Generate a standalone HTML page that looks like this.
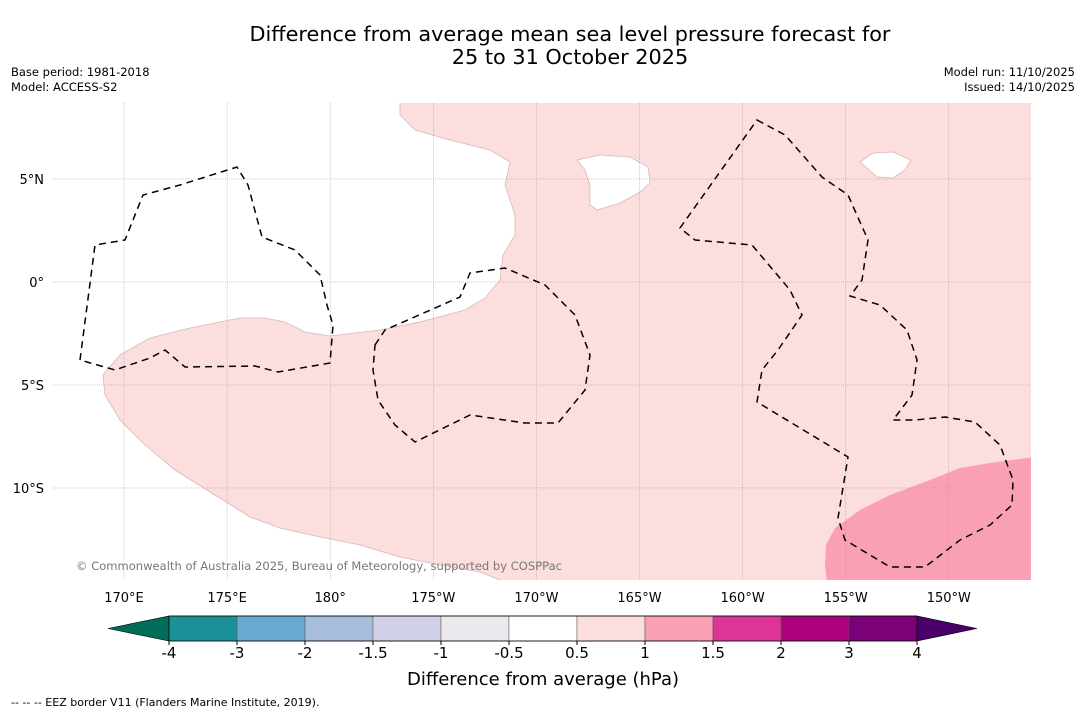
<!DOCTYPE html>
<html><head><meta charset="utf-8">
<style>
body{margin:0;background:#fff;font-family:"DejaVu Sans","Liberation Sans",sans-serif;}
svg{display:block}
</style></head>
<body>
<svg width="1085" height="713" viewBox="0 0 1085 713" xmlns="http://www.w3.org/2000/svg" font-family="DejaVu Sans, Liberation Sans, sans-serif">
<rect width="1085" height="713" fill="#fff"/>
<text x="570" y="41" font-size="20.8" text-anchor="middle">Difference from average mean sea level pressure forecast for</text>
<text x="570" y="64" font-size="20.8" text-anchor="middle">25 to 31 October 2025</text>
<text x="11" y="76" font-size="11.5">Base period: 1981-2018</text>
<text x="11" y="91" font-size="11.5">Model: ACCESS-S2</text>
<text x="1075" y="76" font-size="11.5" text-anchor="end">Model run: 11/10/2025</text>
<text x="1075" y="91" font-size="11.5" text-anchor="end">Issued: 14/10/2025</text>

<g>
<clipPath id="mc"><rect x="53" y="103" width="978" height="477"/></clipPath>
<g clip-path="url(#mc)">
<rect x="53" y="103" width="978" height="477" fill="#fddede"/>
<path d="M400,103 L400,115 L415,130 L450,140 L490,150 L510,162 L505,185 L515,215 L515,235 L503,255 L500,280 L485,298 L465,310 L420,322 L380,330 L330,336 L305,332 L285,322 L265,318 L240,318 L190,328 L150,338 L120,355 L103,375 L105,395 L120,420 L145,445 L175,470 L215,495 L250,517 L280,528 L320,537 L360,545 L400,557 L440,565 L480,572 L505,582 L40,582 L40,95 L400,95 Z" fill="#fff" stroke="#d8b8b8" stroke-width="0.8"/>
<path d="M577,160 L600,155 L630,157 L648,167 L650,183 L640,192 L620,203 L597,210 L590,205 L590,185 L585,170 Z" fill="#fff" stroke="#d8b8b8" stroke-width="0.8"/>
<path d="M860,162 L873,153 L893,152 L911,160 L905,170 L893,178 L877,177 Z" fill="#fff" stroke="#d8b8b8" stroke-width="0.8"/>
<path d="M1034,457 L990,463 L960,468 L930,480 L890,495 L860,510 L835,528 L826,545 L825,565 L827,582 L1034,582 Z" fill="#f99fb6"/>
</g>
<g stroke="#999" stroke-width="0.5" stroke-dasharray="1,1" id="grid"></g>
<g fill="none" stroke="#000" stroke-width="1.5" stroke-dasharray="7,5">
<path d="M80,360 L95,245 L125,240 L143,195 L180,185 L237,167 L248,185 L262,237 L295,250 L320,275 L327,305 L333,325 L330,363 L278,372 L255,366 L185,367 L165,350 L150,358 L115,370 Z"/>
<path d="M375,345 L385,330 L460,297 L470,273 L505,268 L545,285 L575,315 L590,355 L585,390 L558,423 L525,423 L470,415 L415,442 L395,425 L378,400 L373,370 Z"/>
<path d="M757,120 L785,135 L822,177 L848,195 L868,240 L862,280 L850,296 L880,305 L907,330 L917,360 L912,395 L893,420 L915,420 L945,417 L975,422 L1000,445 L1013,480 L1012,505 L990,525 L960,540 L925,567 L890,567 L845,540 L838,518 L848,457 L757,402 L762,370 L778,350 L802,315 L790,290 L752,245 L695,240 L680,228 Z"/>
</g>
<text x="76" y="570" font-size="11.5" fill="#777" textLength="486">© Commonwealth of Australia 2025, Bureau of Meteorology, supported by COSPPac</text>
</g>
<g id="axes" font-size="13"></g>
<g id="cbar"></g>
<text x="543" y="685" font-size="18" text-anchor="middle">Difference from average (hPa)</text>
<text x="11" y="706" font-size="11">--  --  -- EEZ border V11 (Flanders Marine Institute, 2019).</text>
</svg>
<script>
const lonLabels=["170°E","175°E","180°","175°W","170°W","165°W","160°W","155°W","150°W"];
const latLabels=["5°N","0°","5°S","10°S"];
const levels=["-4","-3","-2","-1.5","-1","-0.5","0.5","1","1.5","2","3","4"];
const colors=["#1c9099","#67a9cf","#a6bddb","#d0d1e6","#ebe9ee","#ffffff","#fddede","#f99fb6","#dd3497","#ae017e","#7a0177"];
const NS="http://www.w3.org/2000/svg";
function mk(t,a,p){const e=document.createElementNS(NS,t);for(const k in a)e.setAttribute(k,a[k]);p.appendChild(e);return e;}
const lonX=i=>124+i*103.1, latY=i=>179+i*103;
const grid=document.getElementById('grid'),axes=document.getElementById('axes');
lonLabels.forEach((l,i)=>{
 const ln=mk('line',{x1:lonX(i),x2:lonX(i),y1:103,y2:580},grid);
 
 
 const t=mk('text',{x:lonX(i),y:602,'text-anchor':'middle'},axes);t.textContent=l;
 
 
});
latLabels.forEach((l,i)=>{
 const ln=mk('line',{x1:53,x2:1031,y1:latY(i),y2:latY(i)},grid);
 
 
 const t=mk('text',{x:44,y:latY(i)+5,'text-anchor':'end'},axes);t.textContent=l;
 
 
});
const cb=document.getElementById('cbar');
const x0=169,x1=917,y0=616,h=25,w=(x1-x0)/colors.length;
const lt=mk('polygon',{points:`${x0},${y0} ${x0},${y0+h} 108,${y0+h/2}`,fill:'#016c59',stroke:'#000','stroke-width':0.6},cb);


const rt=mk('polygon',{points:`${x1},${y0} ${x1},${y0+h} 977,${y0+h/2}`,fill:'#49006a',stroke:'#000','stroke-width':0.6},cb);


colors.forEach((c,i)=>{
 const r=mk('rect',{x:x0+i*w,y:y0,width:w,height:h,fill:c,stroke:'#555','stroke-width':0.5},cb);
 
 
});
mk('rect',{x:x0,y:y0,width:x1-x0,height:h,fill:'none',stroke:'#000','stroke-width':0.8},cb);
levels.forEach((l,i)=>{
 const x=x0+i*w;
 mk('line',{x1:x,x2:x,y1:y0+h,y2:y0+h+4,stroke:'#000'},cb);
 const t=mk('text',{x:x,y:658,'text-anchor':'middle','font-size':15},cb);t.textContent=l;
 
 
});
</script>
</body></html>
